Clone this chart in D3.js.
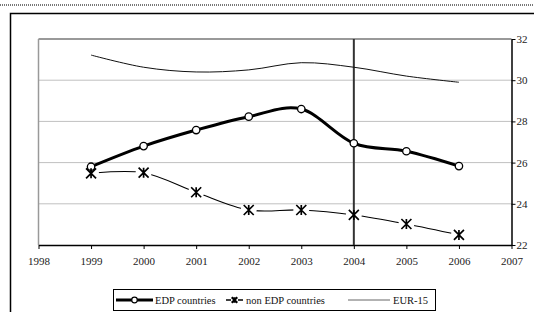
<!DOCTYPE html>
<html>
<head>
<meta charset="utf-8">
<script src="https://cdn.jsdelivr.net/npm/d3@7"></script>
<style>
  body { margin: 0; background: #fff; }
  svg text { font-family: "Liberation Serif", "Times New Roman", Times, "DejaVu Serif", serif; }
</style>
</head>
<body>
<div id="chart"></div>
<script>
// Data
const years = [1999, 2000, 2001, 2002, 2003, 2004, 2005, 2006];
const edpValues = [25.8, 26.8, 27.58, 28.23, 28.6, 26.94, 26.55, 25.83];
const nonEdpValues = [25.48, 25.51, 24.56, 23.7, 23.7, 23.46, 23.02, 22.49];
const eur15Values = [31.22, 30.63, 30.4, 30.5, 30.85, 30.63, 30.2, 29.9];
const xTickLabels = [1998, 1999, 2000, 2001, 2002, 2003, 2004, 2005, 2006, 2007];
const yTickLabels = [22, 24, 26, 28, 30, 32];
const markerYear = 2004;
const seriesNames = ["EDP countries", "non EDP countries", "EUR-15"];

const W = 534, H = 312;
const svg = d3.select("#chart").append("svg")
    .attr("width", W)
    .attr("height", H);

// Dotted rule at the very top and the outer frame
svg.append("line")
    .attr("x1", 0).attr("x2", W).attr("y1", 5).attr("y2", 5)
    .attr("stroke", "#777").attr("stroke-width", 2)
    .attr("stroke-dasharray", "1,1");

svg.append("rect")
    .attr("x", 10.5).attr("y", 13.5)
    .attr("width", 600).attr("height", 400)
    .attr("fill", "none").attr("stroke", "#000").attr("stroke-width", 1.5);

// Scales
const x = d3.scaleLinear().domain([1998, 2007]).range([38.5, 511.5]);
const y = d3.scaleLinear().domain([22, 32]).range([245, 39]);

// Gridlines
svg.append("g")
    .selectAll("line")
    .data(yTickLabels.filter(d => d > 22 && d < 32))
    .enter().append("line")
    .attr("x1", x(1998)).attr("x2", x(2007))
    .attr("y1", d => y(d)).attr("y2", d => y(d))
    .attr("stroke", "#c0c0c0").attr("stroke-width", 1);

// Plot area top and left border (gray)
svg.append("line")
    .attr("x1", x(1998)).attr("x2", x(2007))
    .attr("y1", y(32)).attr("y2", y(32))
    .attr("stroke", "#999").attr("stroke-width", 2);
svg.append("line")
    .attr("x1", x(1998)).attr("x2", x(1998))
    .attr("y1", y(32)).attr("y2", y(22))
    .attr("stroke", "#999").attr("stroke-width", 1.5);

// Axes
const xAxis = svg.append("g")
    .attr("transform", `translate(0,${y(22)})`)
    .call(d3.axisBottom(x).tickValues(xTickLabels).tickSize(4).tickSizeOuter(0).tickFormat(d3.format("d")));
xAxis.select(".domain").attr("stroke", "#000").attr("stroke-width", 1.5);
xAxis.selectAll(".tick line").attr("stroke", "#000");
xAxis.selectAll("text")
    .attr("y", 12)
    .attr("font-size", 11)
    .attr("fill", "#222");

const yAxis = svg.append("g")
    .attr("transform", `translate(${x(2007)},0)`)
    .call(d3.axisRight(y).tickValues(yTickLabels).tickSize(4).tickSizeOuter(0));
yAxis.select(".domain").attr("stroke", "#000").attr("stroke-width", 1.5);
yAxis.selectAll(".tick line").attr("stroke", "#000");
yAxis.selectAll("text")
    .attr("x", 5)
    .attr("font-size", 11)
    .attr("fill", "#222");

// Vertical line at 2004
svg.append("line")
    .attr("x1", x(markerYear)).attr("x2", x(markerYear))
    .attr("y1", y(32)).attr("y2", y(22))
    .attr("stroke", "#333").attr("stroke-width", 2);

const smooth = d3.line()
    .x(d => x(d[0]))
    .y(d => y(d[1]))
    .curve(d3.curveCardinal.tension(0));

const zip = vals => years.map((yr, i) => [yr, vals[i]]);

// EUR-15
svg.append("path")
    .datum(zip(eur15Values))
    .attr("d", smooth)
    .attr("fill", "none")
    .attr("stroke", "#111")
    .attr("stroke-width", 1);

// EDP countries
svg.append("path")
    .datum(zip(edpValues))
    .attr("d", smooth)
    .attr("fill", "none")
    .attr("stroke", "#000")
    .attr("stroke-width", 3);
svg.selectAll(".edp-dot")
    .data(zip(edpValues))
    .enter().append("circle")
    .attr("class", "edp-dot")
    .attr("cx", d => x(d[0]))
    .attr("cy", d => y(d[1]))
    .attr("r", 3.7)
    .attr("fill", "#fff")
    .attr("stroke", "#000")
    .attr("stroke-width", 1.3);

// non EDP countries: line with gaps around the star markers
const mask = svg.append("defs").append("mask").attr("id", "gapmask");
mask.append("rect").attr("x", 0).attr("y", 0).attr("width", W).attr("height", H).attr("fill", "#fff");
mask.selectAll("circle")
    .data(zip(nonEdpValues))
    .enter().append("circle")
    .attr("cx", d => x(d[0]))
    .attr("cy", d => y(d[1]))
    .attr("r", 8)
    .attr("fill", "#000");

svg.append("path")
    .datum(zip(nonEdpValues))
    .attr("d", smooth)
    .attr("fill", "none")
    .attr("stroke", "#000")
    .attr("stroke-width", 1.1)
    .attr("mask", "url(#gapmask)");

const star = (g, s, w) => {
    g.append("path")
        .attr("d", `M${-s},${-s}L${s},${s}M${-s},${s}L${s},${-s}M0,${-s}L0,${s}`)
        .attr("fill", "none")
        .attr("stroke", "#000")
        .attr("stroke-width", w);
};
svg.selectAll(".star")
    .data(zip(nonEdpValues))
    .enter().append("g")
    .attr("class", "star")
    .attr("transform", d => `translate(${x(d[0])},${y(d[1])})`)
    .each(function () { star(d3.select(this), 5, 1.7); });

// Legend
const legend = svg.append("g");
legend.append("rect")
    .attr("x", 113.5).attr("y", 289.5)
    .attr("width", 322).attr("height", 21)
    .attr("fill", "#fff").attr("stroke", "#000").attr("stroke-width", 1);

const ly = 300;
legend.append("line")
    .attr("x1", 116).attr("x2", 153).attr("y1", ly).attr("y2", ly)
    .attr("stroke", "#000").attr("stroke-width", 3);
legend.append("circle")
    .attr("cx", 134.5).attr("cy", ly).attr("r", 2.8)
    .attr("fill", "#fff").attr("stroke", "#000").attr("stroke-width", 1.2);

legend.append("line")
    .attr("x1", 226).attr("x2", 231).attr("y1", ly).attr("y2", ly)
    .attr("stroke", "#000").attr("stroke-width", 1.5);
legend.append("line")
    .attr("x1", 238).attr("x2", 243).attr("y1", ly).attr("y2", ly)
    .attr("stroke", "#000").attr("stroke-width", 1.5);
const ls = legend.append("g").attr("transform", `translate(234.5,${ly})`);
star(ls, 2.8, 2);

legend.append("line")
    .attr("x1", 348).attr("x2", 390).attr("y1", ly).attr("y2", ly)
    .attr("stroke", "#666").attr("stroke-width", 1);

const labelX = [155, 246, 393];
legend.selectAll(".ltext")
    .data(seriesNames)
    .enter().append("text")
    .attr("class", "ltext")
    .attr("x", (d, i) => labelX[i])
    .attr("y", ly)
    .attr("dy", "0.35em")
    .attr("font-size", 10.5)
    .attr("fill", "#111")
    .text(d => d);
</script>
</body>
</html>
